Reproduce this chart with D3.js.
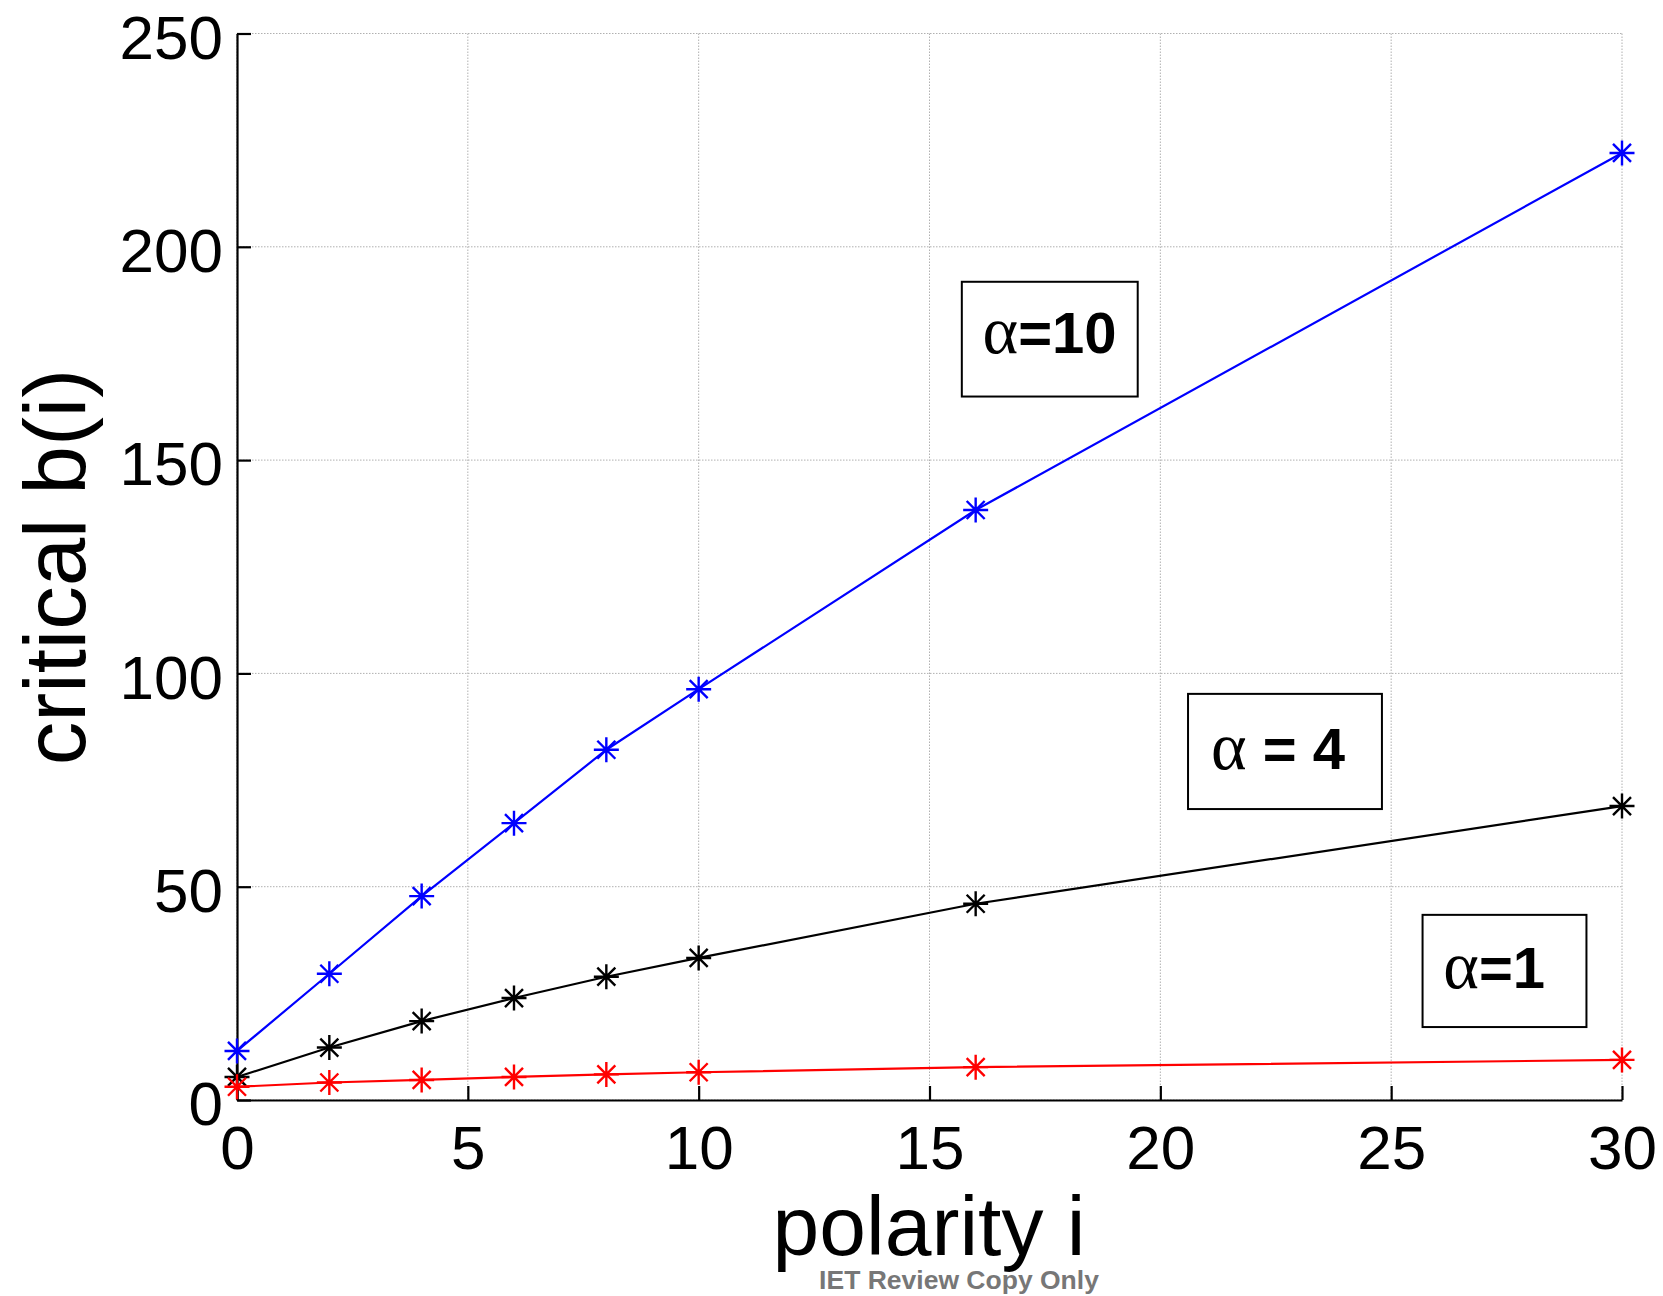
<!DOCTYPE html>
<html>
<head>
<meta charset="utf-8">
<script src="https://cdn.jsdelivr.net/npm/d3@7"></script>
<style>
  body { margin: 0; background: #fff; }
  svg { display: block; font-family: "Liberation Sans", Arial, sans-serif; }
</style>
</head>
<body>
<svg id="chart" width="1663" height="1296"></svg>
<script>
// polarity i values sampled
const polarity = [0, 2, 4, 6, 8, 10, 16, 30];
// critical b(i) for each alpha
const alpha10 = [11.5, 29.6, 47.8, 64.9, 82.1, 96.3, 138.3, 222.0];
const alpha4 = [5.4, 12.3, 18.5, 23.9, 28.9, 33.3, 46.0, 68.9];
const alpha1 = [3.1, 4.1, 4.7, 5.4, 6.0, 6.5, 7.7, 9.4];
const xTicks = [0, 5, 10, 15, 20, 25, 30];
const yTicks = [0, 50, 100, 150, 200, 250];

const series = [
  { name: "alpha10", values: alpha10, color: "#0000ff" },
  { name: "alpha4", values: alpha4, color: "#000000" },
  { name: "alpha1", values: alpha1, color: "#ff0000" }
];

// label boxes, in data units: [x0, x1, yTop, yBottom], text anchor [x, y]
const labelBoxes = [
  { parts: ["α", "=10"], box: [15.70, 19.51, 191.8, 164.9], at: [16.15, 175.1] },
  { parts: ["α", " = 4"], box: [20.6, 24.8, 95.2, 68.2], at: [21.1, 77.6] },
  { parts: ["α", "=1"], box: [25.68, 29.23, 43.4, 17.1], at: [26.13, 26.3] }
];

const svg = d3.select("#chart");
const plotLeft = 237, plotRight = 1622, plotTop = 33.5, plotBottom = 1100;

const x = d3.scaleLinear().domain([0, 30]).range([plotLeft, plotRight]);
const y = d3.scaleLinear().domain([0, 250]).range([plotBottom, plotTop]);

// grid
const grid = svg.append("g")
  .attr("stroke", "#b0b0b0")
  .attr("stroke-width", 1)
  .attr("stroke-dasharray", "1.5,1.5");
grid.selectAll("line.v").data(xTicks).enter().append("line")
  .attr("x1", d => x(d)).attr("x2", d => x(d))
  .attr("y1", plotTop).attr("y2", plotBottom);
grid.selectAll("line.h").data(yTicks).enter().append("line")
  .attr("x1", plotLeft).attr("x2", plotRight)
  .attr("y1", d => y(d)).attr("y2", d => y(d));

// axes (MATLAB style: ticks pointing inward)
const xAxis = svg.append("g")
  .attr("transform", `translate(0,${plotBottom})`)
  .call(d3.axisBottom(x).tickValues(xTicks).tickSize(-14).tickPadding(25).tickSizeOuter(0));
const yAxis = svg.append("g")
  .attr("transform", `translate(${plotLeft},0)`)
  .call(d3.axisLeft(y).tickValues(yTicks).tickSize(-14).tickPadding(14).tickSizeOuter(0));

[xAxis, yAxis].forEach(a => {
  a.select(".domain").attr("stroke", "#000").attr("stroke-width", 2.2);
  a.selectAll(".tick line").attr("stroke", "#000").attr("stroke-width", 2.2);
  a.selectAll(".tick text")
    .attr("fill", "#000")
    .style("font-family", "'Liberation Sans', Arial, sans-serif")
    .style("font-size", "62px");
});
yAxis.selectAll(".tick text").attr("dy", "0.4em");

// how to draw lines
const line = d3.line()
  .x((d, i) => x(polarity[i]))
  .y(d => y(d));

// 8-arm asterisk marker
const r = 12.5, rd = r * 0.72;
const star = `M${-r},0L${r},0M0,${-r}L0,${r}M${-rd},${-rd}L${rd},${rd}M${-rd},${rd}L${rd},${-rd}`;

series.forEach(s => {
  svg.append("path")
    .attr("d", line(s.values))
    .attr("fill", "none")
    .attr("stroke", s.color)
    .attr("stroke-width", 2.2);
  svg.append("g").selectAll("path")
    .data(s.values)
    .enter()
    .append("path")
    .attr("transform", (d, i) => `translate(${x(polarity[i])},${y(d)})`)
    .attr("d", star)
    .attr("fill", "none")
    .attr("stroke", s.color)
    .attr("stroke-width", 2.4);
});

// annotation boxes
labelBoxes.forEach(b => {
  svg.append("rect")
    .attr("x", x(b.box[0]))
    .attr("y", y(b.box[2]))
    .attr("width", x(b.box[1]) - x(b.box[0]))
    .attr("height", y(b.box[3]) - y(b.box[2]))
    .attr("fill", "#fff")
    .attr("stroke", "#000")
    .attr("stroke-width", 2);
  const t = svg.append("text")
    .attr("x", x(b.at[0]))
    .attr("y", y(b.at[1]))
    .attr("fill", "#000");
  t.append("tspan")
    .style("font-family", "'Liberation Serif', 'Times New Roman', serif")
    .style("font-size", "68px")
    .text(b.parts[0]);
  t.append("tspan")
    .style("font-family", "'Liberation Sans', Arial, sans-serif")
    .style("font-weight", "bold")
    .style("font-size", "58px")
    .style("white-space", "pre")
    .text(b.parts[1]);
});

// axis titles
svg.append("text")
  .attr("x", 929)
  .attr("y", 1255)
  .attr("text-anchor", "middle")
  .style("font-size", "84px")
  .text("polarity i");

svg.append("text")
  .attr("transform", "translate(85,567) rotate(-90)")
  .attr("text-anchor", "middle")
  .style("font-size", "87px")
  .text("critical b(i)");

svg.append("text")
  .attr("x", 959)
  .attr("y", 1289)
  .attr("text-anchor", "middle")
  .attr("fill", "#777")
  .style("font-weight", "bold")
  .style("font-size", "26.5px")
  .text("IET Review Copy Only");
</script>
</body>
</html>
